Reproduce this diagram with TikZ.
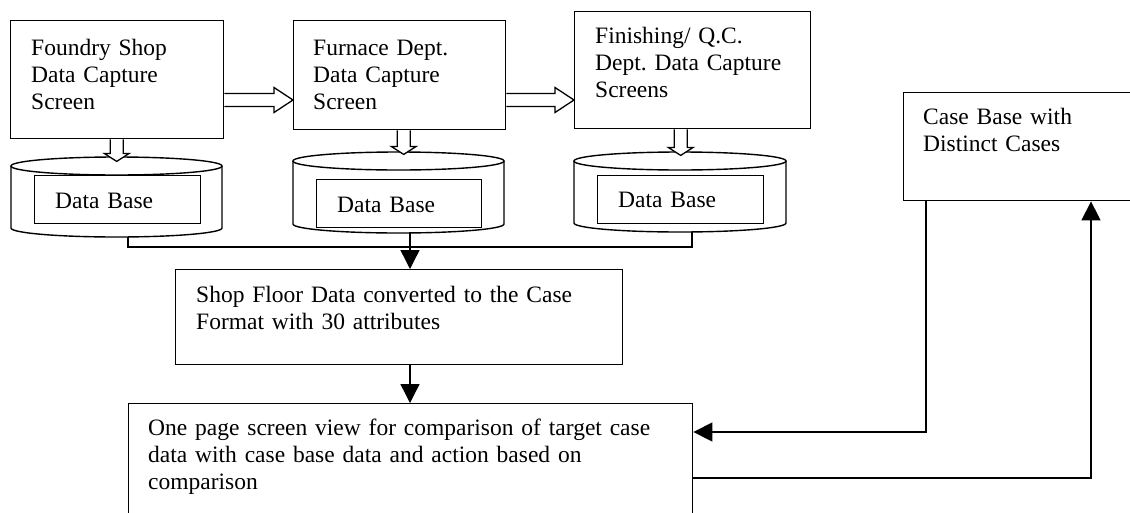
\documentclass[tikz,border=0pt]{standalone}
\usepackage{fontspec}
\setmainfont{Liberation Serif}
\usetikzlibrary{arrows.meta,calc}
\frenchspacing
\newcommand\harrow[2]{\draw[hol] let \p1=(#1), \p2=(#2) in
  (\x1,\y1+6.5pt) -- (\x2-19pt,\y1+6.5pt) -- (\x2-19pt,\y1+12.5pt) -- (\x2,\y1)
  -- (\x2-19pt,\y1-12.5pt) -- (\x2-19pt,\y1-6.5pt) -- (\x1,\y1-6.5pt);}
\newcommand\varrow[2]{\draw[hol] let \p1=(#1), \p2=(#2) in
  (\x1-6.5pt,\y1) -- (\x1-6.5pt,\y2+8pt) -- (\x1-12.5pt,\y2+8pt) -- (\x1,\y2)
  -- (\x1+12.5pt,\y2+8pt) -- (\x1+6.5pt,\y2+8pt) -- (\x1+6.5pt,\y1);}
\newcommand\cyl[4]{% x1, x2, top centre y, bottom centre y
  \pgfmathsetmacro\rx{(#2-#1)/2}
  \draw[lw, fill=white] (#1,#3) -- (#1,#4) arc[start angle=180, end angle=360, x radius=\rx pt, y radius=9pt] -- (#2,#3);
  \draw[lw] ({(#1+#2)/2},#3) ellipse [x radius=\rx pt, y radius=9pt];}
\begin{document}
\begin{tikzpicture}[x=1pt,y=-1pt,
  lw/.style={line width=1.4pt},
  boxnode/.style={draw, line width=1.4pt, anchor=north west, inner sep=0pt},
  txt/.style={anchor=base west, align=left, text width=560pt, inner sep=0pt,
    font=\fontsize{23.5}{27}\selectfont\frenchspacing},
  hol/.style={line width=1.3pt, draw, fill=white, line join=miter},
  arr/.style={line width=1.4pt, -{Triangle[length=19pt,width=19pt]}}]
\useasboundingbox (0,0) rectangle (1130,512);
\clip (0,0) rectangle (1130,512);
\fill[white] (0,0) rectangle (1130,512);

% boxes
\node[boxnode, minimum width=213, minimum height=118] (b1) at (10,20) {};
\node[boxnode, minimum width=212, minimum height=109] (b2) at (293,20) {};
\node[boxnode, minimum width=236, minimum height=117] (b3) at (574,11) {};
\node[boxnode, minimum width=260, minimum height=108] (cb) at (903,92) {};
\node[boxnode, minimum width=447, minimum height=95] (sf) at (175,269) {};
\node[boxnode, minimum width=564, minimum height=140] (bb) at (128,403) {};

\node[txt] (t1) at (31,55) {Foundry Shop\\Data Capture\\Screen};
\node[txt] (t2) at (313,55) {Furnace Dept.\\Data Capture\\Screen};
\node[txt] (t3) at (595,43) {Finishing/ Q.C.\\Dept. Data Capture\\Screens};
\node[txt] (t4) at (923,124) {Case Base with\\Distinct Cases};
\node[txt] (t5) at (196,302) {Shop Floor Data converted to the Case\\Format with 30 attributes};
\node[txt] (t6) at (148,435) {One page screen view for comparison of target case\\data with case base data and action based on\\comparison};

% cylinders
\cyl{11}{222}{166}{228}
\cyl{293}{504}{161}{224}
\cyl{574}{786}{161}{223}
\node[boxnode, minimum width=166, minimum height=48] (d1) at (34,175) {};
\node[boxnode, minimum width=165, minimum height=48] (d2) at (316,179) {};
\node[boxnode, minimum width=166, minimum height=48] (d3) at (597,175) {};
\node[txt] (dt1) at (55,208) {Data Base};
\node[txt] (dt2) at (337,212) {Data Base};
\node[txt] (dt3) at (618,207) {Data Base};

% hollow arrows
\harrow{$(b1.north east)+(0,80)$}{$(b2.north west)+(0,80)$}
\coordinate (h2s) at ($(b2.north east)+(0,80)$);
\harrow{h2s}{b3.west |- h2s}
\varrow{$(b1.south)+(-0.5,0)$}{$(b1.south)+(-0.5,22)$}
\varrow{$(b2.south)+(4,0)$}{$(b2.south)+(4,24)$}
\varrow{$(b3.south)+(-12,0)$}{$(b3.south)+(-12,26)$}

% connectors
\coordinate (c1b) at (128,237);
\coordinate (c2b) at (410,232);
\coordinate (c3b) at (692,232);
\coordinate (bus) at (410,247);
\draw[lw] (c1b) |- (bus) -| (c3b);
\draw[arr] (c2b) -- (c2b |- sf.north);
\draw[arr] (c2b |- sf.south) -- (c2b |- bb.north);
\draw[arr] ($(cb.south west)+(23,0)$) |- ($(bb.north east)+(0,29)$);
\draw[arr] ($(bb.north east)+(0,75)$) -| ($(cb.south west)+(188,0)$);
\end{tikzpicture}
\end{document}
